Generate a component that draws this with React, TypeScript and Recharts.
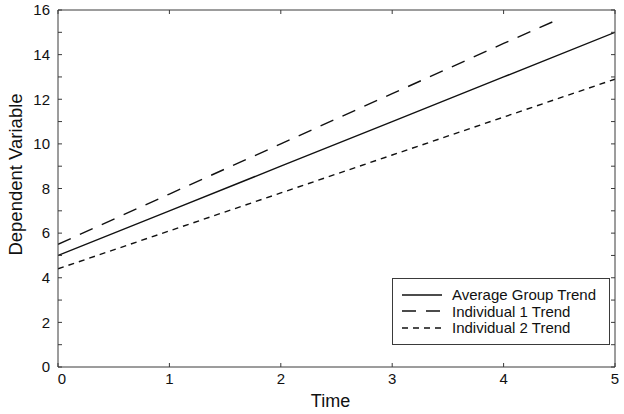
import React from "react";
import { CartesianGrid, Line, LineChart, XAxis, YAxis } from "recharts";

// Values (time on x, dependent variable on y).
const TIME = [0, 1, 2, 3, 4, 5];
const AVERAGE_GROUP = [5, 7, 9, 11, 13, 15];
const INDIVIDUAL_1_TIME = [0, 1, 2, 3, 4, 4.5];
const INDIVIDUAL_1 = [5.5, 7.75, 10, 12.25, 14.5, 15.6];
const INDIVIDUAL_2 = [4.4, 6.1, 7.8, 9.5, 11.2, 12.9];

const X_TICKS = [0, 1, 2, 3, 4, 5];
const Y_TICKS = [0, 1, 2, 3, 4, 5, 6, 7, 8, 9, 10, 11, 12, 13, 14, 15, 16];

const FONT = "'Liberation Sans', Arial, Helvetica, sans-serif";
const FRAME = "#3a3a3a";
const INK = "#111";

const avgData = TIME.map((t, i) => ({ t, v: AVERAGE_GROUP[i] }));
const ind1Data = INDIVIDUAL_1_TIME.map((t, i) => ({ t, v: INDIVIDUAL_1[i] }));
const ind2Data = TIME.map((t, i) => ({ t, v: INDIVIDUAL_2[i] }));

const SERIES = [
  { name: "Average Group Trend", data: avgData, dash: undefined, width: 1.4 },
  { name: "Individual 1 Trend", data: ind1Data, dash: "14 10", width: 1.4 },
  { name: "Individual 2 Trend", data: ind2Data, dash: "6 5", width: 1.4 },
];

// Ticks point inward (MATLAB style). Labels sit at tickSize+tickMargin (8px)
// outside the axis line, so the axis edge is at label position +/- 8.
const TICK_LEN = 4;
const GAP = 8;

function LeftTick(props: any) {
  const { x, y, payload } = props;
  const edge = x + GAP;
  return (
    <g>
      <line x1={edge} x2={edge + TICK_LEN} y1={y} y2={y} stroke={FRAME} />
      {payload.value % 2 === 0 && (
        <text x={x} y={y} dy="0.35em" textAnchor="end" fontSize={15} fontFamily={FONT} fill={INK}>
          {payload.value}
        </text>
      )}
    </g>
  );
}

function RightTick(props: any) {
  const { x, y } = props;
  const edge = x - GAP;
  return <line x1={edge} x2={edge - TICK_LEN} y1={y} y2={y} stroke={FRAME} />;
}

function BottomTick(props: any) {
  const { x, y, payload } = props;
  const edge = y - GAP;
  // the first label is nudged off the corner, as in the source figure
  const lx = payload.value === 0 ? x + 4 : x;
  return (
    <g>
      <line x1={x} x2={x} y1={edge} y2={edge - TICK_LEN} stroke={FRAME} />
      <text x={lx} y={y - 2} dy="0.75em" textAnchor="middle" fontSize={15} fontFamily={FONT} fill={INK}>
        {payload.value}
      </text>
    </g>
  );
}

function TopTick(props: any) {
  const { x, y } = props;
  const edge = y + GAP;
  return <line x1={x} x2={x} y1={edge} y2={edge + TICK_LEN} stroke={FRAME} />;
}

function LegendBox() {
  return (
    <div
      style={{
        position: "absolute",
        left: 392,
        top: 278,
        width: 216,
        height: 65,
        border: `1px solid ${FRAME}`,
        background: "#fff",
        fontFamily: FONT,
        fontSize: 15,
        color: INK,
      }}
    >
      {SERIES.map((s, i) => (
        <div
          key={s.name}
          style={{
            position: "absolute",
            left: 9,
            top: 7 + i * 16.5,
            height: 17,
            display: "flex",
            alignItems: "center",
            whiteSpace: "nowrap",
          }}
        >
          <svg width={40} height={4} style={{ marginRight: 10 }}>
            <line
              x1={0}
              x2={40}
              y1={2}
              y2={2}
              stroke={INK}
              strokeWidth={1.4}
              strokeDasharray={s.dash}
            />
          </svg>
          <span style={{ lineHeight: "17px" }}>{s.name}</span>
        </div>
      ))}
    </div>
  );
}

function YTitle(props: any) {
  const { viewBox } = props;
  const cy = viewBox.y + viewBox.height / 2 - 14;
  return (
    <text
      x={15}
      y={cy}
      transform={`rotate(-90, 15, ${cy})`}
      textAnchor="middle"
      dominantBaseline="central"
      fontSize={18.5}
      fontFamily={FONT}
      fill={INK}
    >
      Dependent Variable
    </text>
  );
}

function XTitle(props: any) {
  const { viewBox } = props;
  const cx = viewBox.x + viewBox.width / 2 - 6;
  return (
    <text x={cx} y={407} textAnchor="middle" fontSize={18} fontFamily={FONT} fill={INK}>
      Time
    </text>
  );
}

export default function App() {
  return (
    <div style={{ position: "absolute", left: 0, top: 0, width: 624, height: 414, background: "#fff" }}>
      <LineChart width={624} height={414} margin={{ top: 0, right: 0, bottom: 0, left: 0 }}>
        <CartesianGrid stroke="none" />
        <XAxis
          xAxisId="bottom"
          type="number"
          dataKey="t"
          domain={[0, 5]}
          ticks={X_TICKS}
          height={47}
          tickLine={false}
          axisLine={{ stroke: FRAME }}
          tick={<BottomTick />}
          interval={0}
          allowDataOverflow
          label={<XTitle />}
        />
        <XAxis
          xAxisId="top"
          orientation="top"
          type="number"
          dataKey="t"
          domain={[0, 5]}
          ticks={X_TICKS}
          height={10}
          tickLine={false}
          axisLine={{ stroke: FRAME }}
          tick={<TopTick />}
          interval={0}
          allowDataOverflow
        />
        <YAxis
          yAxisId="left"
          type="number"
          domain={[0, 16]}
          ticks={Y_TICKS}
          width={58}
          tickLine={false}
          axisLine={{ stroke: FRAME }}
          tick={<LeftTick />}
          interval={0}
          allowDataOverflow
          label={<YTitle />}
        />
        <YAxis
          yAxisId="right"
          orientation="right"
          type="number"
          domain={[0, 16]}
          ticks={Y_TICKS}
          width={9}
          tickLine={false}
          axisLine={{ stroke: FRAME }}
          tick={<RightTick />}
          interval={0}
          allowDataOverflow
        />
        {SERIES.map((s) => (
          <Line
            key={s.name}
            xAxisId="bottom"
            yAxisId="left"
            data={s.data}
            dataKey="v"
            type="linear"
            stroke={INK}
            strokeWidth={s.width}
            strokeDasharray={s.dash}
            dot={false}
            activeDot={false}
            isAnimationActive={false}
          />
        ))}
      </LineChart>
      <LegendBox />
    </div>
  );
}
